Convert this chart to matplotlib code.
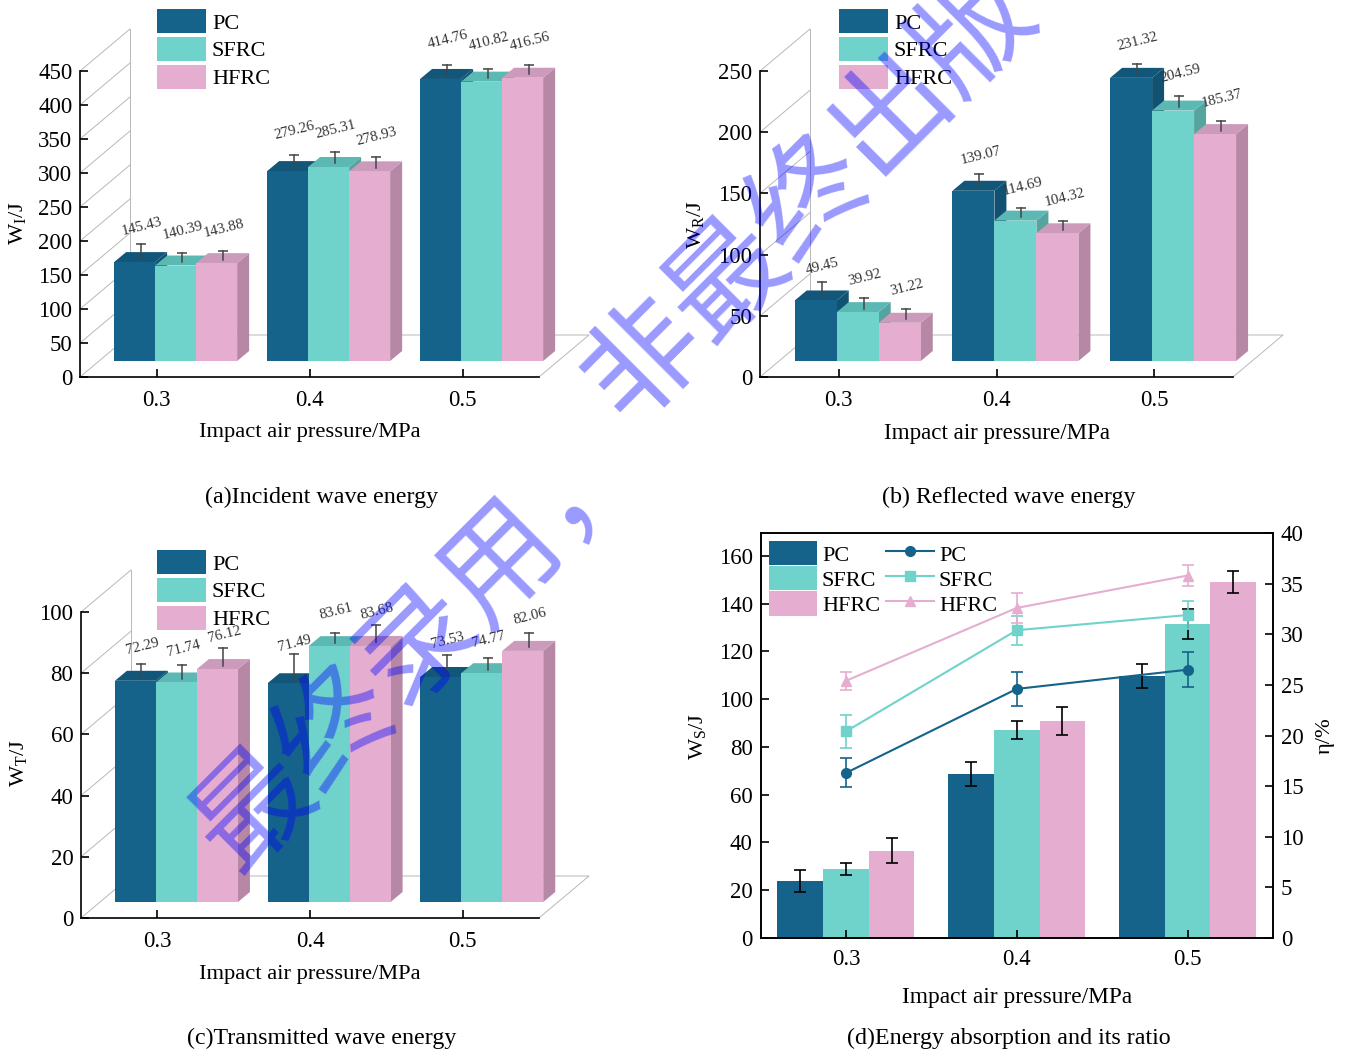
import matplotlib
matplotlib.use('Agg')
import matplotlib.pyplot as plt
from matplotlib.patches import Polygon, Patch
from matplotlib.lines import Line2D
from matplotlib.transforms import Bbox

plt.rcParams['font.family'] = ['Liberation Serif', 'DejaVu Sans']
plt.rcParams['mathtext.fontset'] = 'custom'
plt.rcParams['mathtext.rm'] = 'Liberation Serif'
plt.rcParams['mathtext.it'] = 'Liberation Serif:italic'

W, H = 1349, 1049
FS_TICK = 16.5
FS_AXIS = 16.2
FS_LEG = 16
FS_CAP = 17.3

pressures = ['0.3', '0.4', '0.5']
mixes = ['PC', 'SFRC', 'HFRC']

front = ['#15638a', '#6fd3cb', '#e5aed0']
top = ['#125679', '#5cb8b2', '#cc9abb']
side = ['#115273', '#56a49f', '#b787a6']

incident = [[145.43, 279.26, 414.76], [140.39, 285.31, 410.82], [143.88, 278.93, 416.56]]
incident_err = [[18.6, 16, 13.7], [11.8, 14.7, 11.8], [10, 13.7, 10.8]]
incident_lift = [[18, 25, 25], [22, 22, 27], [23, 20, 24]]

reflected = [[49.45, 139.07, 231.32], [39.92, 114.69, 204.59], [31.22, 104.32, 185.37]]
reflected_err = [[10.6, 9.8, 7.4], [7.6, 6, 8], [7.4, 5.7, 6.5]]
reflected_lift = [[16, 18, 22], [20, 22, 22], [21, 24, 23]]

transmitted = [[72.29, 71.49, 73.53], [71.74, 83.61, 74.77], [76.12, 83.68, 82.06]]
transmitted_err = [[3.8, 7.8, 5.6], [4.0, 2.7, 3.3], [5.3, 5.1, 4.3]]
transmitted_lift = [[18, 11, 14], [17, 21, 19], [13, 14, 16]]

absorbed = [[23.8, 68.6, 109.9], [28.9, 87.1, 131.4], [36.6, 90.8, 149.1]]
absorbed_err = [[4.5, 5, 5], [2.5, 3.9, 6.2], [5.1, 5.9, 4.6]]
ratio = [[16.3, 24.6, 26.5], [20.4, 30.4, 31.9], [25.4, 32.6, 35.8]]
ratio_err = [[1.43, 1.67, 1.73], [1.63, 1.43, 1.4], [0.87, 1.45, 1.08]]


def add_axes(x0, x1, y_top, y_bot):
    return fig.add_axes([x0 / W, 1 - y_bot / H, (x1 - x0) / W, (y_bot - y_top) / H])


def put_labels(ax, box, xlab, xpos, ylab, ypos, xsize=FS_AXIS):
    x0, x1, y_top, y_bot = box
    ax.set_xlabel(xlab, fontsize=xsize, va='center')
    ax.xaxis.set_label_coords((xpos[0] - x0) / (x1 - x0), (y_bot - xpos[1]) / (y_bot - y_top))
    ax.set_ylabel(ylab, fontsize=FS_AXIS, va='center')
    ax.yaxis.set_label_coords((ypos[0] - x0) / (x1 - x0), (y_bot - ypos[1]) / (y_bot - y_top))


def put_legend(ax, handles, labels, x, y, ncol=1, hlen=2.2, tpad=0.27, spacing=0.15):
    ax.legend(handles, labels, loc='upper left', bbox_to_anchor=(x / W, 1 - y / H),
              bbox_transform=fig.transFigure, frameon=False, borderpad=0, borderaxespad=0,
              fontsize=FS_LEG, handlelength=hlen, handleheight=1.3, labelspacing=spacing,
              handletextpad=tpad, ncol=ncol, columnspacing=0.27)


def bars_3d(box, ymax, step, bar_px, group_shift, values, errs, lifts, ylab, ypos, legend_x, legend_y, floor_y, xsize=FS_AXIS):
    x0, x1, y_top, y_bot = box
    ax = add_axes(*box)
    sx = 3 / (x1 - x0)
    sy = ymax / (y_bot - y_top)
    # depth of the fake 3d box, px to data
    wall_x, wall_y = 50 * sx, (y_bot - floor_y) * sy
    deep_x, deep_y = 12 * sx, 10 * sy
    base = 16 * sy
    w = bar_px * sx

    ax.set_xlim(-0.5, 2.5)
    ax.set_ylim(0, ymax)
    ticks = list(range(0, ymax + 1, step))
    for t in ticks:
        ax.plot([-0.5, -0.5 + wall_x], [t, t + wall_y], color='#b8b8b8', lw=0.7, zorder=0.5, clip_on=False)
    ax.plot([-0.5 + wall_x] * 2, [wall_y, ymax + wall_y], color='#b8b8b8', lw=0.7, zorder=0.5, clip_on=False)
    ax.plot([-0.5 + wall_x, 2.5 + wall_x, 2.5], [wall_y, wall_y, 0], color='#b8b8b8', lw=0.7, zorder=0.5, clip_on=False)

    z = 1
    for g in range(3):
        for m in range(3):
            left = g + group_shift + (m - 1.5) * w
            h = values[m][g] + base
            ax.add_patch(Polygon([(left + w, base), (left + w + deep_x, base + deep_y),
                                  (left + w + deep_x, h + deep_y), (left + w, h)],
                                 fc=side[m], lw=0, zorder=z, clip_on=False))
            ax.add_patch(Polygon([(left, h), (left + deep_x, h + deep_y),
                                  (left + w + deep_x, h + deep_y), (left + w, h)],
                                 fc=top[m], lw=0, zorder=z, clip_on=False))
            ax.bar(left, values[m][g], w, bottom=base, align='edge', color=front[m], lw=0, zorder=z + 0.1, clip_on=False)
            z += 0.2
            cx = left + w / 2 + deep_x / 2
            cy = h + deep_y / 2
            cap = cy + errs[m][g]
            ax.plot([cx, cx], [cy - 1.5 * sy, cap], color='#444444', lw=1.1, zorder=20, clip_on=False)
            ax.plot([cx], [cap], marker='_', ms=7, mew=1.1, color='#444444', zorder=20, clip_on=False)
            ax.text(cx + 1 * sx, cap + lifts[m][g] * sy, f'{values[m][g]:.2f}', fontsize=10.8, rotation=14,
                    ha='center', va='center', color='#333333', zorder=21, clip_on=False)

    for s in ['top', 'right']:
        ax.spines[s].set_visible(False)
    for s in ['left', 'bottom']:
        ax.spines[s].set_linewidth(1.2)
        ax.spines[s].set_zorder(30)
    ax.set_xticks(range(3), pressures)
    ax.set_yticks(ticks)
    ax.tick_params(axis='y', direction='in', length=5.8, width=1.2, labelsize=FS_TICK, pad=5.5)
    ax.tick_params(axis='x', direction='in', length=5.8, width=1.2, labelsize=FS_TICK, pad=9.5)
    ax.patch.set_alpha(0)
    put_labels(ax, box, 'Impact air pressure/MPa', ((x0 + x1) / 2, y_bot + 56), ylab, ypos, xsize)
    handles = [Patch(fc=c, lw=0) for c in front]
    put_legend(ax, handles, mixes, legend_x, legend_y)
    return ax


fig = plt.figure(figsize=(W / 100, H / 100), dpi=100)

bars_3d((80, 539, 71, 377), 450, 50, 41, 0.125, incident, incident_err, incident_lift,
        r'W$_{\mathrm{I}}$/J', (18, 223), 157, 9, 335)
bars_3d((760, 1233, 71, 377), 250, 50, 42, 0.120, reflected, reflected_err, reflected_lift,
        r'W$_{\mathrm{R}}$/J', (695, 225), 839, 9, 335, 16.6)
bars_3d((81, 539, 612, 918), 100, 20, 41, 0.125, transmitted, transmitted_err, transmitted_lift,
        r'W$_{\mathrm{T}}$/J', (18, 763), 157, 550, 876)

# panel d
box = (760.5, 1273, 533, 938)
ax = add_axes(*box)
ax.set_xlim(-0.5, 2.5)
ax.set_ylim(0, 169.6)
w = 0.267
for m in range(3):
    pos = [g + (m - 1) * w for g in range(3)]
    ax.bar(pos, absorbed[m], w, color=front[m], lw=0, zorder=1)
    ax.errorbar(pos, absorbed[m], yerr=absorbed_err[m], fmt='none', ecolor='black', elinewidth=1.2,
                capsize=4, capthick=1.2, zorder=3)
ax.set_xticks(range(3), pressures)
ax.set_yticks(range(0, 161, 20))
ax.tick_params(axis='y', direction='in', length=5.8, width=1.2, labelsize=FS_TICK, pad=5.5)
ax.tick_params(axis='x', direction='in', length=5.8, width=1.2, labelsize=FS_TICK, pad=8)
put_labels(ax, box, 'Impact air pressure/MPa', (1017, 997), r'W$_{\mathrm{S}}$/J', (697, 736), 16.8)

ax2 = ax.twinx()
ax2.set_ylim(0, 40)
markers = ['o', 's', '^']
for m in range(3):
    ax2.errorbar(range(3), ratio[m], yerr=ratio_err[m], color=front[m], marker=markers[m], ms=7, lw=1.5,
                 elinewidth=1.2, capsize=4, capthick=1.2, zorder=5)
ax2.set_yticks(range(0, 41, 5))
ax2.tick_params(axis='y', direction='in', length=5.8, width=1.2, labelsize=FS_TICK, pad=5.5)
ax2.set_ylabel('η/%', fontsize=FS_AXIS, rotation=90, va='center')
ax2.yaxis.set_label_coords((1325 - 761) / 512, (938 - 736) / 405)
for a in [ax, ax2]:
    for s in a.spines.values():
        s.set_linewidth(1.2)
ax.set_zorder(ax2.get_zorder() - 1)
ax2.patch.set_visible(False)

handles_d = [Patch(fc=c, lw=0) for c in front]
handles_d += [Line2D([], [], color=front[m], marker=markers[m], ms=7, lw=1.5) for m in range(3)]
labels_d = mixes + mixes
put_legend(ax2, handles_d, labels_d, 769, 541, ncol=2, hlen=2.16, tpad=0.22, spacing=0.03)

fig.text(322 / W, 1 - 497 / H, '(a)Incident wave energy', fontsize=FS_CAP, ha='center', va='center')
fig.text(1009 / W, 1 - 497 / H, '(b) Reflected wave energy', fontsize=FS_CAP, ha='center', va='center')
fig.text(322 / W, 1 - 1038 / H, '(c)Transmitted wave energy', fontsize=FS_CAP, ha='center', va='center')
fig.text(1009 / W, 1 - 1038 / H, '(d)Energy absorption and its ratio', fontsize=FS_CAP, ha='center', va='center')

# watermark
t1 = fig.text(810 / W, 1 - 197 / H, '非最终出版', fontsize=84, rotation=45, rotation_mode='anchor',
              ha='center', va='center', color='blue', alpha=0.4, family=['Noto Sans CJK SC'], zorder=50)
t1.set_clip_box(Bbox([[0, H - 428], [W, H]]))
t1.set_clip_on(True)
t2 = fig.text(420 / W, 1 - 645 / H, '最终录用，', fontsize=84, rotation=45, rotation_mode='anchor',
              ha='center', va='center', color='blue', alpha=0.4, family=['Noto Sans CJK SC'], zorder=50)
t2.set_clip_box(Bbox([[0, H - 895], [W, H - 487]]))
t2.set_clip_on(True)

fig.savefig('out.png', dpi=100)
